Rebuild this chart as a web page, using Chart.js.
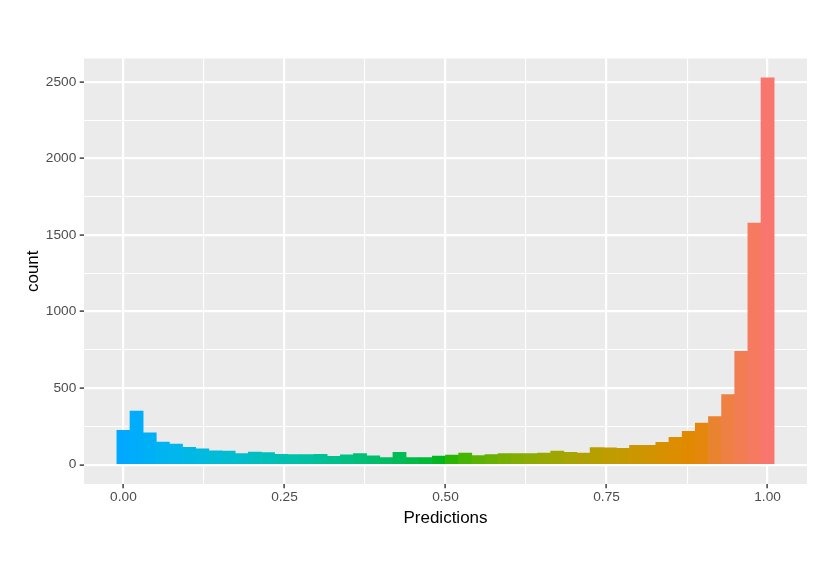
<!DOCTYPE html>
<html>
<head>
<meta charset="utf-8">
<title>Predictions histogram</title>
<script src="https://cdn.jsdelivr.net/npm/chart.js@4.4.1/dist/chart.umd.min.js"></script>
<style>
  html, body { margin: 0; padding: 0; background: #ffffff; }
  #chart { display: block; }
</style>
</head>
<body>
<canvas id="chart" width="830" height="587"></canvas>
<script>
// 50 bins over 0..1, centers and counts
const binCenters = [
    0.0000, 0.0204, 0.0408, 0.0612, 0.0816, 0.1020, 0.1224, 0.1429, 0.1633, 0.1837,
    0.2041, 0.2245, 0.2449, 0.2653, 0.2857, 0.3061, 0.3265, 0.3469, 0.3673, 0.3878,
    0.4082, 0.4286, 0.4490, 0.4694, 0.4898, 0.5102, 0.5306, 0.5510, 0.5714, 0.5918,
    0.6122, 0.6327, 0.6531, 0.6735, 0.6939, 0.7143, 0.7347, 0.7551, 0.7755, 0.7959,
    0.8163, 0.8367, 0.8571, 0.8776, 0.8980, 0.9184, 0.9388, 0.9592, 0.9796, 1.0000
];
const counts = [
    224, 350, 208, 147, 135, 113, 103, 90, 88, 73,
    82, 79, 68, 66, 66, 68, 54, 64, 73, 57,
    46, 80, 46, 46, 56, 63, 75, 59, 66, 73,
    72, 72, 75, 88, 81, 76, 112, 110, 107, 126,
    126, 146, 179, 218, 272, 314, 458, 740, 1578, 2527
];

const xMajorTicks = [0, 0.25, 0.5, 0.75, 1];
const xMinorTicks = [0.125, 0.375, 0.625, 0.875];
const xTickLabels = ['0.00', '0.25', '0.50', '0.75', '1.00'];

const yMajorTicks = [0, 500, 1000, 1500, 2000, 2500];
const yMinorTicks = [250, 750, 1250, 1750, 2250];
const yTickLabels = ['0', '500', '1000', '1500', '2000', '2500'];

// hcl -> rgb, same idea as R's hcl()
function hclColor(h, c, l) {
    const rad = h * Math.PI / 180;
    const u = c * Math.cos(rad);
    const v = c * Math.sin(rad);
    const Xn = 95.047, Yn = 100.0, Zn = 108.883;
    const un = 4 * Xn / (Xn + 15 * Yn + 3 * Zn);
    const vn = 9 * Yn / (Xn + 15 * Yn + 3 * Zn);
    const Y = l > 8 ? Yn * Math.pow((l + 16) / 116, 3) : Yn * l / 903.3;
    const up = u / (13 * l) + un;
    const vp = v / (13 * l) + vn;
    const X = 9 * Y * up / (4 * vp);
    const Z = -X / 3 - 5 * Y + 3 * Y / vp;
    const x = X / 100, y = Y / 100, z = Z / 100;
    let rgb = [
        3.240479 * x - 1.537150 * y - 0.498535 * z,
        -0.969256 * x + 1.875992 * y + 0.041556 * z,
        0.055648 * x - 0.204043 * y + 1.057311 * z
    ];
    rgb = rgb.map(ch => {
        ch = ch <= 0.0031308 ? 12.92 * ch : 1.055 * Math.pow(Math.max(ch, 0), 1 / 2.4) - 0.055;
        return Math.round(Math.min(1, Math.max(0, ch)) * 255);
    });
    return `rgb(${rgb[0]}, ${rgb[1]}, ${rgb[2]})`;
}

// fill goes along x: blue at 0 round to salmon at 1
const barColors = binCenters.map(x => hclColor(240 - 225 * x, 100, 65));

function findIndex(list, value) {
    for (let i = 0; i < list.length; i++) {
        if (Math.abs(list[i] - value) < 1e-9) return i;
    }
    return -1;
}

const panelBackground = {
    id: 'panelBackground',
    beforeDraw(chart) {
        const {ctx, chartArea} = chart;
        ctx.save();
        ctx.fillStyle = '#EBEBEB';
        ctx.fillRect(chartArea.left, chartArea.top, chartArea.right - chartArea.left, chartArea.bottom - chartArea.top);
        ctx.restore();
    }
};

Chart.defaults.font.family = '"Liberation Sans", Arial, sans-serif';

const points = binCenters.map((x, i) => ({x: x, y: counts[i]}));

const ctx = document.getElementById('chart').getContext('2d');
const histChart = new Chart(ctx, {
    type: 'bar',
    data: {
        datasets: [{
            data: points,
            backgroundColor: barColors,
            borderWidth: 0,
            barPercentage: 1.0,
            categoryPercentage: 1.0
        }]
    },
    options: {
        responsive: false,
        devicePixelRatio: 1,
        animation: false,
        layout: {
            padding: {left: 22.8, right: 23, top: 58.5, bottom: 58.8}
        },
        plugins: {
            legend: {display: false},
            tooltip: {enabled: false}
        },
        scales: {
            x: {
                type: 'linear',
                min: -0.0612,
                max: 1.0612,
                offset: false,
                afterBuildTicks: scale => {
                    scale.ticks = xMajorTicks.concat(xMinorTicks).sort((a, b) => a - b).map(v => ({value: v}));
                },
                afterFit: scale => { scale.height = 44.2; },
                border: {display: false},
                grid: {
                    offset: false,
                    color: '#FFFFFF',
                    lineWidth: c => findIndex(xMajorTicks, c.tick.value) >= 0 ? 2.2 : 1.1,
                    drawTicks: true,
                    tickLength: 4.3,
                    tickWidth: 1.4,
                    tickColor: c => findIndex(xMajorTicks, c.tick.value) >= 0 ? '#333333' : 'rgba(0,0,0,0)'
                },
                ticks: {
                    autoSkip: false,
                    maxRotation: 0,
                    padding: 0.3,
                    color: '#4D4D4D',
                    font: {size: 13.7},
                    callback: value => {
                        const i = findIndex(xMajorTicks, value);
                        return i >= 0 ? xTickLabels[i] : '';
                    }
                },
                title: {
                    display: true,
                    text: 'Predictions',
                    color: '#000000',
                    font: {size: 17},
                    padding: 0
                }
            },
            y: {
                type: 'linear',
                min: -126.35,
                max: 2653.35,
                afterBuildTicks: scale => {
                    scale.ticks = yMajorTicks.concat(yMinorTicks).sort((a, b) => a - b).map(v => ({value: v}));
                },
                afterFit: scale => { scale.width = 61.2; },
                border: {display: false},
                grid: {
                    color: '#FFFFFF',
                    lineWidth: c => findIndex(yMajorTicks, c.tick.value) >= 0 ? 2.2 : 1.1,
                    drawTicks: true,
                    tickLength: 4.3,
                    tickWidth: 1.4,
                    tickColor: c => findIndex(yMajorTicks, c.tick.value) >= 0 ? '#333333' : 'rgba(0,0,0,0)'
                },
                ticks: {
                    autoSkip: false,
                    padding: 3.4,
                    color: '#4D4D4D',
                    font: {size: 13.7},
                    callback: value => {
                        const i = findIndex(yMajorTicks, value);
                        return i >= 0 ? yTickLabels[i] : '';
                    }
                },
                title: {
                    display: true,
                    text: 'count',
                    color: '#000000',
                    font: {size: 17},
                    padding: 0
                }
            }
        }
    },
    plugins: [panelBackground]
});
</script>
</body>
</html>
